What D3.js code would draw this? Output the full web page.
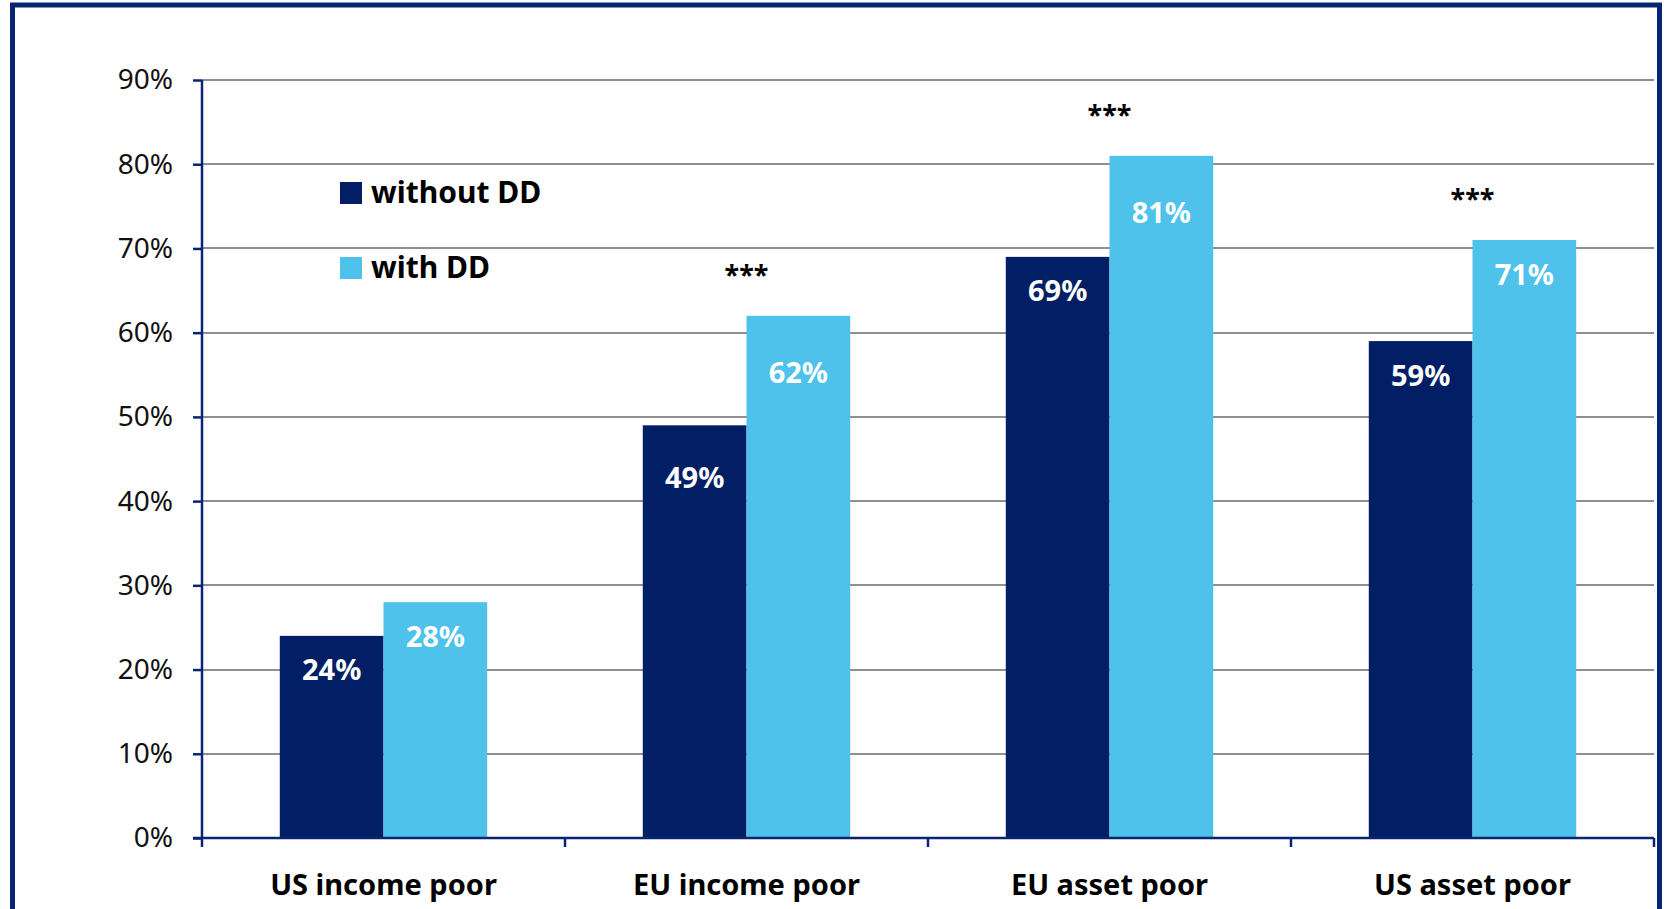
<!DOCTYPE html>
<html>
<head>
<meta charset="utf-8">
<script src="https://cdn.jsdelivr.net/npm/d3@7"></script>
<style>
  html, body { margin: 0; padding: 0; background: #fff; }
  svg { display: block; font-family: "Noto Sans", "Open Sans", sans-serif; }
</style>
</head>
<body>
<svg id="chart" width="1664" height="909"></svg>
<script>
// data
const categories = ["US income poor", "EU income poor", "EU asset poor", "US asset poor"];
const seriesNames = ["without DD", "with DD"];
const withoutDD = [0.24, 0.49, 0.69, 0.59];
const withDD = [0.28, 0.62, 0.81, 0.71];
const stars = ["", "***", "***", "***"];
const yTicks = [0, 0.1, 0.2, 0.3, 0.4, 0.5, 0.6, 0.7, 0.8, 0.9];

const colors = ["#021f65", "#4ec2ea"];
const navy = "#0a2673";

// label drop below bar top (label centre), some labels were nudged by hand in the original
const labelDrop = [[34, 34], [52, 57], [34, 57], [34, 34]];

const svg = d3.select("#chart");

const plot = { left: 202, right: 1654, top: 80, bottom: 838 };

// outer frame (bottom edge falls outside the picture)
svg.append("rect")
    .attr("x", 12.5)
    .attr("y", 5)
    .attr("width", 1647)
    .attr("height", 960)
    .attr("fill", "none")
    .attr("stroke", navy)
    .attr("stroke-width", 5);

const y = d3.scaleLinear().domain([0, 0.9]).range([plot.bottom, plot.top]);
const x0 = d3.scaleBand().domain(categories).range([plot.left, plot.right]).padding(0);
const x1 = d3.scaleBand().domain(seriesNames).range([0, x0.bandwidth()])
    .paddingInner(0).paddingOuter(0.75);

// gridlines
svg.append("g")
    .selectAll("line")
    .data(yTicks.filter(d => d > 0))
    .enter()
    .append("line")
    .attr("x1", plot.left)
    .attr("x2", plot.right)
    .attr("y1", d => Math.round(y(d)))
    .attr("y2", d => Math.round(y(d)))
    .attr("stroke", "#8f8f8f")
    .attr("stroke-width", 2);

// bars
const groups = svg.append("g")
    .selectAll("g")
    .data(categories)
    .enter()
    .append("g")
    .attr("transform", d => `translate(${x0(d)},0)`);

const rows = categories.map((c, i) => [withoutDD[i], withDD[i]]);

groups.selectAll("rect")
    .data((d, i) => rows[i].map((v, j) => ({ v, j })))
    .enter()
    .append("rect")
    .attr("x", d => x1(seriesNames[d.j]))
    .attr("y", d => y(d.v))
    .attr("width", x1.bandwidth())
    .attr("height", d => y(0) - y(d.v))
    .attr("fill", d => colors[d.j]);

// value labels
groups.selectAll("text.val")
    .data((d, i) => rows[i].map((v, j) => ({ v, j, i })))
    .enter()
    .append("text")
    .attr("class", "val")
    .attr("x", d => x1(seriesNames[d.j]) + x1.bandwidth() / 2)
    .attr("y", d => y(d.v) + labelDrop[d.i][d.j] + 10.5)
    .attr("text-anchor", "middle")
    .attr("fill", "#fff")
    .attr("font-weight", "bold")
    .attr("font-size", 29)
    .text(d => Math.round(d.v * 100) + "%");

// significance stars
svg.append("g")
    .selectAll("text")
    .data(categories)
    .enter()
    .append("text")
    .attr("x", d => x0(d) + x0.bandwidth() / 2)
    .attr("y", (d, i) => y(withDD[i]) - 31)
    .attr("text-anchor", "middle")
    .attr("font-weight", "bold")
    .attr("font-size", 27)
    .attr("fill", "#000")
    .text((d, i) => stars[i]);

// y axis
const yAxis = svg.append("g")
    .attr("transform", `translate(${plot.left},0)`)
    .call(d3.axisLeft(y).tickValues(yTicks).tickFormat(d3.format(".0%")).tickSize(9).tickPadding(20));
yAxis.select(".domain").attr("stroke", navy).attr("stroke-width", 2.5)
    .attr("d", `M0,${plot.top}V${plot.bottom}`);
yAxis.selectAll(".tick line").attr("stroke", navy).attr("stroke-width", 2.5);
yAxis.selectAll(".tick text")
    .attr("font-size", 28)
    .attr("font-family", "Noto Sans, sans-serif")
    .attr("fill", "#111");

// x axis with ticks at category boundaries
const xAxisG = svg.append("g").attr("transform", `translate(0,${plot.bottom})`);
xAxisG.append("line")
    .attr("x1", plot.left - 9)
    .attr("x2", plot.right)
    .attr("stroke", navy)
    .attr("stroke-width", 2.5);
const bounds = categories.map(c => x0(c)).concat([plot.right]);
xAxisG.selectAll("line.tk")
    .data(bounds)
    .enter()
    .append("line")
    .attr("class", "tk")
    .attr("x1", d => d)
    .attr("x2", d => d)
    .attr("y1", 0)
    .attr("y2", 9)
    .attr("stroke", navy)
    .attr("stroke-width", 2.5);
xAxisG.selectAll("text")
    .data(categories)
    .enter()
    .append("text")
    .attr("x", d => x0(d) + x0.bandwidth() / 2)
    .attr("y", 57)
    .attr("text-anchor", "middle")
    .attr("font-weight", "bold")
    .attr("font-size", 29)
    .attr("fill", "#000")
    .text(d => d);

// legend
const legend = svg.append("g")
    .selectAll("g")
    .data(seriesNames)
    .enter()
    .append("g")
    .attr("transform", (d, i) => `translate(340,${182 + i * 75})`);
legend.append("rect")
    .attr("width", 22)
    .attr("height", 22)
    .attr("fill", (d, i) => colors[i]);
legend.append("text")
    .attr("x", 31)
    .attr("y", 21)
    .attr("font-weight", "bold")
    .attr("font-size", 30)
    .attr("fill", "#000")
    .text(d => d);
</script>
</body>
</html>
